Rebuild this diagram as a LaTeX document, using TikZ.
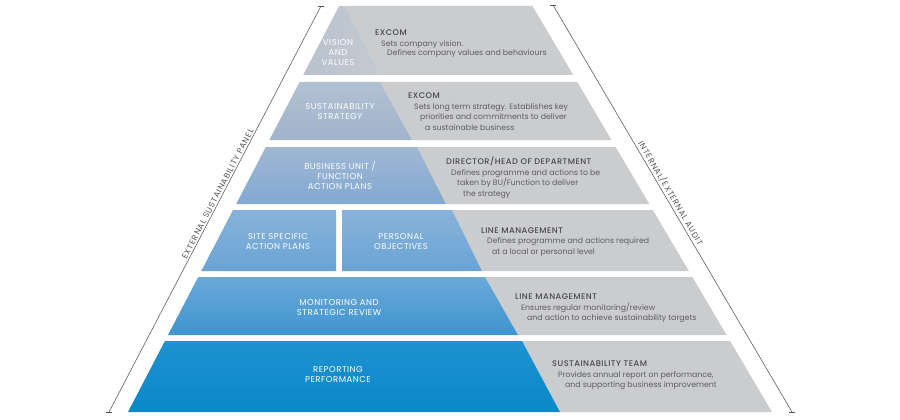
\documentclass[tikz,border=0pt]{standalone}
\usepackage{fontspec}
\setmainfont{Poppins}
\newfontfamily\titlefont{Poppins Medium}[LetterSpace=6]
\newfontfamily\capsfont{Poppins}[LetterSpace=6]
\newfontfamily\sidefont{Poppins}[LetterSpace=9]
\definecolor{greyT}{HTML}{CBCCCE}
\definecolor{titleC}{HTML}{4A4A4C}
\definecolor{bodyC}{HTML}{5E5E60}
\definecolor{lineC}{HTML}{555555}
\definecolor{bA1}{HTML}{C4CAD3}\definecolor{bA2}{HTML}{B8C1CD}
\definecolor{bB1}{HTML}{B2C0D2}\definecolor{bB2}{HTML}{A0B4CC}
\definecolor{bC1}{HTML}{A0B7D3}\definecolor{bC2}{HTML}{82A9D2}
\definecolor{bD1}{HTML}{88B2D9}\definecolor{bD2}{HTML}{6AA4D5}
\definecolor{bE1}{HTML}{6AA9D8}\definecolor{bE2}{HTML}{3E95D0}
\definecolor{bF1}{HTML}{1E92D0}\definecolor{bF2}{HTML}{0A88C8}
\tikzset{
  inlabel/.style={text=white, align=center, font=\capsfont\fontsize{8.5}{10}\selectfont, inner sep=0pt},
  ttl/.style={anchor=base west, text=titleC, font=\titlefont\fontsize{8.2}{9}\selectfont, inner sep=0pt},
  bdy/.style={anchor=base west, text=bodyC, font=\fontsize{7.8}{9}\selectfont, inner sep=0pt},
  sidelabel/.style={text=lineC, font=\sidefont\fontsize{8.2}{9}\selectfont, inner sep=1.5pt},
  sideline/.style={draw=lineC, line width=0.55pt}
}
\begin{document}
\begin{tikzpicture}[x=1pt,y=-1pt]
\useasboundingbox (0,0) rectangle (900,420);
\fill[white] (0,0) rectangle (900,420);
% ---- tier 1
\fill[greyT] (345,6)--(532.5,6)--(573.2,75)--(381,75)--cycle;
\shade[left color=bA2, right color=bA1] (339.1,6)--(345,6)--(381,75)--(303.2,75)--cycle;
% ---- tier 2
\fill[greyT] (380,82)--(577.3,82)--(611.5,140)--(412,140)--cycle;
\shade[top color=bB1, bottom color=bB2] (299.6,82)--(380,82)--(412,140)--(269.4,140)--cycle;
% ---- tier 3
\fill[greyT] (417,147)--(615.6,147)--(649.3,204)--(446,204)--cycle;
\shade[top color=bC1, bottom color=bC2] (265.8,147)--(417,147)--(446,204)--(236.2,204)--cycle;
% ---- tier 4
\fill[greyT] (452,210)--(652.8,210)--(688.8,271)--(482,271)--cycle;
\shade[top color=bD1, bottom color=bD2] (233,210)--(336,210)--(336,271)--(201.3,271)--cycle;
\shade[top color=bD1, bottom color=bD2] (342,210)--(452,210)--(482,271)--(342,271)--cycle;
% ---- tier 5
\fill[greyT] (485,277)--(692.3,277)--(726.6,335)--(518,335)--cycle;
\shade[top color=bE1, bottom color=bE2] (198.2,277)--(485,277)--(518,335)--(168,335)--cycle;
% ---- tier 6
\fill[greyT] (522,341)--(730.1,341)--(772,412)--(560,412)--cycle;
\shade[top color=bF1, bottom color=bF2] (164.9,341)--(522,341)--(560,412)--(128,412)--cycle;

% ---- left labels
\node[inlabel] (l1) at (338,53) {VISION\\AND\\VALUES};
\node[inlabel] (l2) at (340,112) {SUSTAINABILITY\\STRATEGY};
\node[inlabel] (l3) at (340,176) {BUSINESS UNIT /\\FUNCTION\\ACTION PLANS};
\node[inlabel] (l4a) at (278,242) {SITE SPECIFIC\\ACTION PLANS};
\node[inlabel] (l4b) at (401,242) {PERSONAL\\OBJECTIVES};
\node[inlabel] (l5) at (339,308) {MONITORING AND\\STRATEGIC REVIEW};
\node[inlabel] (l6) at (338,375) {REPORTING\\PERFORMANCE};

% ---- right texts
\node[ttl] (t1) at (375,36) {EXCOM};
\node[bdy] (t1a) at (381,47) {Sets company vision.};
\node[bdy] (t1b) at (387,56) {Defines company values and behaviours};

\node[ttl] (t2) at (408,99) {EXCOM};
\node[bdy] (t2a) at (414,110) {Sets long term strategy. Establishes key};
\node[bdy] (t2b) at (420,120) {priorities and commitments to deliver};
\node[bdy] (t2c) at (425,130) {a sustainable business};

\node[ttl] (t3) at (446,164) {DIRECTOR/HEAD OF DEPARTMENT};
\node[bdy] (t3a) at (451,175) {Defines programme and actions to be};
\node[bdy] (t3b) at (457,185) {taken by BU/Function to deliver};
\node[bdy] (t3c) at (463,196) {the strategy};

\node[ttl] (t4) at (481,233) {LINE MANAGEMENT};
\node[bdy] (t4a) at (487,243) {Defines programme and actions required};
\node[bdy] (t4b) at (492,254) {at a local or personal level};

\node[ttl] (t5) at (515,299) {LINE MANAGEMENT};
\node[bdy] (t5a) at (521,310) {Ensures regular monitoring/review};
\node[bdy] (t5b) at (527,320) {and action to achieve sustainability targets};

\node[ttl] (t6) at (552,366) {SUSTAINABILITY TEAM};
\node[bdy] (t6a) at (558,377) {Provides annual report on performance,};
\node[bdy] (t6b) at (565,387) {and supporting business improvement};

% ---- side lines
\coordinate (lb) at (109,412);
\coordinate (lt) at (321,6);
\coordinate (rt) at (553,5);
\coordinate (rb) at (792,412);
\draw[sideline] (lb) -- (lt) node[pos=0.532, sloped, above, sidelabel] (extp) {EXTERNAL SUSTAINABILITY PANEL};
\draw[sideline] (rt) -- (rb) node[pos=0.47, sloped, above, sidelabel] (audit) {INTERNAL/EXTERNAL AUDIT};
\draw[sideline] ([xshift=-3pt]lb) -- ([xshift=3pt]lb);
\draw[sideline] ([xshift=-3pt]lt) -- ([xshift=3pt]lt);
\draw[sideline] ([xshift=-3pt]rt) -- ([xshift=3pt]rt);
\draw[sideline] ([xshift=-3pt]rb) -- ([xshift=3pt]rb);
\end{tikzpicture}
\end{document}
